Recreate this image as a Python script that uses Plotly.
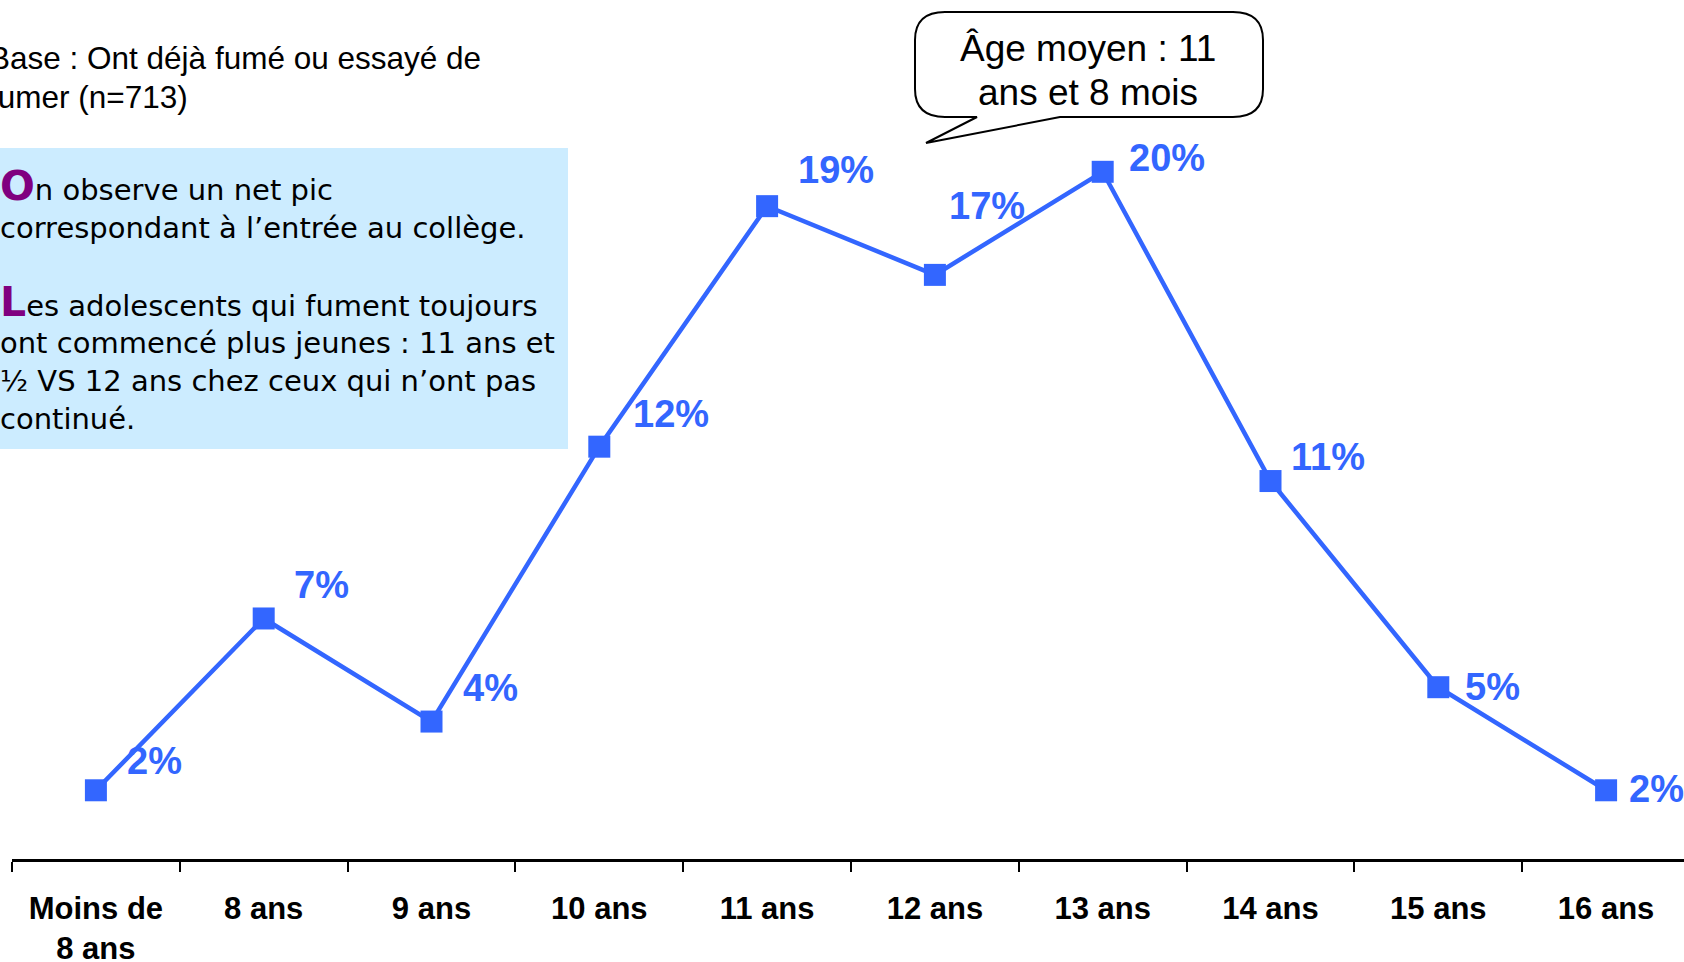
import plotly.graph_objects as go

categories = ["Moins de<br>8 ans", "8 ans", "9 ans", "10 ans", "11 ans",
              "12 ans", "13 ans", "14 ans", "15 ans", "16 ans"]
values = [2, 7, 4, 12, 19, 17, 20, 11, 5, 2]
value_labels = ["2%", "7%", "4%", "12%", "19%", "17%", "20%", "11%", "5%", "2%"]

base_lines = ["Base : Ont déjà fumé ou essayé de", "fumer (n=713)"]
bubble_lines = ["Âge moyen : 11", "ans et 8 mois"]
comment_lines = [
    ("O", "n observe un net pic"),
    ("", "correspondant à l’entrée au collège."),
    ("L", "es adolescents qui fument toujours"),
    ("", "ont commencé plus jeunes : 11 ans et"),
    ("", "½ VS 12 ans chez ceux qui n’ont pas"),
    ("", "continué."),
]

BLUE = "#3366FF"
PURPLE = "#800080"

# page / plot area in px
W, H = 1684, 962
L, R, T, B = 12, 0, 0, 103
PW, PH = W - L - R, H - T - B


def px(x):
    return (x - L) / PW


def py(y):
    return (H - B - y) / PH


# label offsets (right, up) in px from each point
label_shift = [(29, 29), (28, 33), (29, 34), (32, 33), (29, 36),
               (12, 69), (24, 14), (18, 24), (25, 0), (21, 1)]
comment_y = [186, 228, 302, 343, 381, 419]

idx = list(range(len(categories)))

fig = go.Figure()
fig.add_trace(go.Scatter(
    x=idx, y=values, mode="lines+markers",
    line=dict(color=BLUE, width=4.5),
    marker=dict(symbol="square", size=22, color=BLUE),
    cliponaxis=False, hoverinfo="skip",
))

annotations = []
for i, (v, t) in enumerate(zip(values, value_labels)):
    dx, dy = label_shift[i]
    annotations.append(dict(
        x=i, y=v, xref="x", yref="y", text=t, showarrow=False,
        xanchor="left", yanchor="middle", xshift=dx, yshift=dy,
        font=dict(family="Liberation Sans", size=38, color=BLUE, weight="bold"),
    ))

for line, y in zip(base_lines, [58, 97]):
    annotations.append(dict(
        x=px(-13), y=py(y), xref="paper", yref="paper", text=line,
        showarrow=False, xanchor="left", yanchor="middle",
        font=dict(family="Liberation Sans", size=31.5, color="black"),
    ))

for (first, rest), y in zip(comment_lines, comment_y):
    txt = rest
    if first:
        txt = ("<span style='color:%s;font-size:41px;font-weight:bold'>%s</span>"
               % (PURPLE, first)) + rest
    annotations.append(dict(
        x=px(-2), y=py(y), xref="paper", yref="paper", text=txt,
        showarrow=False, xanchor="left", yanchor="middle",
        font=dict(family="DejaVu Sans", size=29, color="black"),
    ))

for line, y in zip(bubble_lines, [49, 92]):
    annotations.append(dict(
        x=px(1088), y=py(y), xref="paper", yref="paper", text=line,
        showarrow=False, xanchor="center", yanchor="middle",
        font=dict(family="Liberation Sans", size=37, color="black"),
    ))

# speech bubble outline
x0, x1, y0, y1 = 915, 1263, 12, 117
rx, ry = 30, 28
pts = [
    ("M", [(x0 + rx, y0)]),
    ("L", [(x1 - rx, y0)]),
    ("Q", [(x1, y0), (x1, y0 + ry)]),
    ("L", [(x1, y1 - ry)]),
    ("Q", [(x1, y1), (x1 - rx, y1)]),
    ("L", [(1060, y1)]),
    ("L", [(926, 143)]),
    ("L", [(977, y1)]),
    ("L", [(x0 + rx, y1)]),
    ("Q", [(x0, y1), (x0, y1 - ry)]),
    ("L", [(x0, y0 + ry)]),
    ("Q", [(x0, y0), (x0 + rx, y0)]),
]
path = " ".join(c + " " + " ".join("%.5f,%.5f" % (px(a), py(b)) for a, b in p)
                for c, p in pts) + " Z"

shapes = [
    dict(type="rect", xref="paper", yref="paper",
         x0=px(-10), x1=px(568), y0=py(449), y1=py(148),
         fillcolor="#CCECFF", line=dict(width=0), layer="below"),
    dict(type="path", xref="paper", yref="paper", path=path,
         fillcolor="white", line=dict(color="black", width=2), layer="above"),
]

fig.update_layout(
    width=W, height=H,
    margin=dict(l=L, r=R, t=T, b=B, pad=0),
    paper_bgcolor="white", plot_bgcolor="white",
    showlegend=False,
    annotations=annotations,
    shapes=shapes,
    xaxis=dict(
        range=[-0.5, -0.5 + PW / 167.8],
        automargin=False,
        tickmode="array", tickvals=idx, ticktext=categories,
        ticks="", showgrid=False, zeroline=False,
        showline=True, linecolor="black", linewidth=2.5,
        tickfont=dict(family="Liberation Sans", size=31, color="black", weight="bold"),
        ticklabelstandoff=20,
        minor=dict(tickmode="array", tickvals=[i - 0.5 for i in range(11)],
                   ticks="outside", ticklen=10, tickwidth=1.5,
                   tickcolor="black", showgrid=False),
    ),
    yaxis=dict(range=[0, 25], visible=False, automargin=False),
)

fig.write_html("out.html", config={"displayModeBar": False},
               post_script="document.body.style.margin='0';")
